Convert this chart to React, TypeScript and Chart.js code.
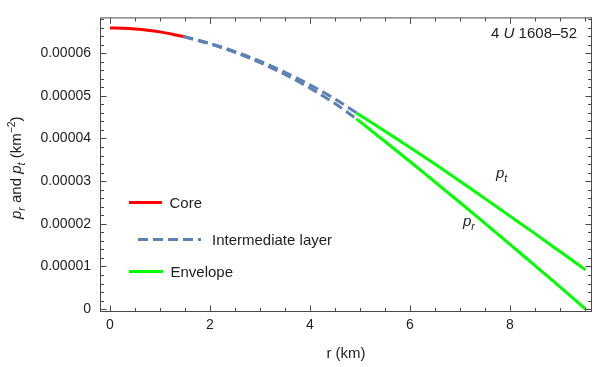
import React, { useEffect, useRef } from "react";
import { Chart, registerables } from "chart.js";

Chart.register(...registerables);

// values in units of 1e-5 km^-2
const UNIT = 1e-5;

const coreR = [0, 0.25, 0.5, 0.75, 1.0, 1.25, 1.47];
const coreP = [6.59, 6.584, 6.567, 6.54, 6.5, 6.445, 6.39];

const midR = [1.47, 2, 2.5, 3, 3.5, 4, 4.5, 4.93];
const midPt = [6.39, 6.227, 6.037, 5.812, 5.551, 5.256, 4.925, 4.6];
const midPr = [6.39, 6.218, 6.019, 5.78, 5.501, 5.181, 4.819, 4.46];

const envR = [4.93, 5.5, 6, 6.5, 7, 7.5, 8, 8.5, 9, 9.51];
const envPt = [4.6, 4.17, 3.79, 3.4, 3.0, 2.59, 2.18, 1.77, 1.35, 0.92];
const envPr = [4.46, 3.93, 3.46, 2.98, 2.5, 2.01, 1.52, 1.02, 0.52, 0.0];

const xTicks = [0, 2, 4, 6, 8];
const yTicks = [0, 1, 2, 3, 4, 5, 6];
const xMinorStep = 0.5;
const yMinorStep = 0.2;

const legendLabels = ["Core", "Intermediate layer", "Envelope"];
const starName = "4U 1608-52";

const RED = "#ff0000";
const BLUE = "#5e81b5";
const GREEN = "#00ff00";
const FRAME = "#4a4a4a";
const TEXT = "#1e1e1e";
const FAMILY = '"Liberation Sans", Arial, sans-serif';

type Seg = { t: string; it?: boolean; sub?: boolean; sup?: boolean };

function segFont(s: Seg) {
  return `${s.it ? "italic " : ""}${s.sub || s.sup ? 10.5 : 15}px ${FAMILY}`;
}
function richWidth(ctx: CanvasRenderingContext2D, segs: Seg[]) {
  let w = 0;
  for (const s of segs) {
    ctx.font = segFont(s);
    w += ctx.measureText(s.t).width;
  }
  return w;
}
function drawRich(ctx: CanvasRenderingContext2D, segs: Seg[], x: number, y: number) {
  ctx.textAlign = "left";
  ctx.textBaseline = "alphabetic";
  let cx = x;
  for (const s of segs) {
    ctx.font = segFont(s);
    const dy = s.sub ? 3.5 : s.sup ? -6 : 0;
    ctx.fillText(s.t, cx, y + dy);
    cx += ctx.measureText(s.t).width;
  }
}

const toPts = (xs: number[], ys: number[]) => xs.map((x, i) => ({ x, y: ys[i] * UNIT }));

const framePlugin = {
  id: "mmaFrame",
  afterDraw(chart: any) {
    const { ctx, chartArea: a, scales } = chart;
    const xs = scales.x;
    const ys = scales.y;
    ctx.save();
    ctx.strokeStyle = FRAME;
    ctx.lineWidth = 1;
    const L = a.left + 0.5, R = a.right - 0.5, T = a.top + 0.5, B = a.bottom - 0.5;
    ctx.strokeRect(L, T, R - L, B - T);
    const MAJ = 6, MIN = 3.5;
    ctx.beginPath();
    const xMin = xs.min, xMax = xs.max;
    for (let i = Math.ceil(xMin / xMinorStep); i * xMinorStep <= xMax; i++) {
      const v = i * xMinorStep;
      const isMajor = xTicks.some((t) => Math.abs(t - v) < 1e-9);
      const len = isMajor ? MAJ : MIN;
      const px = Math.round(xs.getPixelForValue(v)) + 0.5;
      ctx.moveTo(px, B);
      ctx.lineTo(px, B - len);
      ctx.moveTo(px, T);
      ctx.lineTo(px, T + len);
    }
    const yMin = ys.min / UNIT, yMax = ys.max / UNIT;
    for (let i = Math.ceil(yMin / yMinorStep - 1e-9); i * yMinorStep <= yMax + 1e-9; i++) {
      const v = i * yMinorStep;
      const isMajor = yTicks.some((t) => Math.abs(t - v) < 1e-9);
      const len = isMajor ? MAJ : MIN;
      const py = Math.round(ys.getPixelForValue(v * UNIT)) + 0.5;
      ctx.moveTo(L, py);
      ctx.lineTo(L + len, py);
      ctx.moveTo(R, py);
      ctx.lineTo(R - len, py);
    }
    ctx.stroke();

    ctx.fillStyle = TEXT;
    const ySegs: Seg[] = [
      { t: "p", it: true },
      { t: "r", it: true, sub: true },
      { t: " and " },
      { t: "p", it: true },
      { t: "t", it: true, sub: true },
      { t: " (km" },
      { t: "\u22122", sup: true },
      { t: ")" },
    ];
    const cy = (a.top + a.bottom) / 2 + 3;
    ctx.save();
    ctx.rotate(-Math.PI / 2);
    const yw = richWidth(ctx, ySegs);
    drawRich(ctx, ySegs, -cy - yw / 2, 21);
    ctx.restore();

    const dash = starName.indexOf("-");
    const nameSegs: Seg[] = [
      { t: starName.slice(0, 1) + " " },
      { t: starName.slice(1, 2), it: true },
      { t: " " + starName.slice(3, dash) + "\u2013" },
      { t: starName.slice(dash + 1) },
    ];
    const nw = richWidth(ctx, nameSegs);
    drawRich(ctx, nameSegs, 577 - nw, 38);

    drawRich(ctx, [{ t: "p", it: true }, { t: "t", it: true, sub: true }], 496, 178);
    drawRich(ctx, [{ t: "p", it: true }, { t: "r", it: true, sub: true }], 463, 226);

    const ds = chart.data.datasets;
    const items = [
      { d: ds[0], x0: 129, x1: 162, y: 202.5, tx: 169.5, label: legendLabels[0] },
      { d: ds[1], x0: 138, x1: 201, y: 239.5, tx: 212, label: legendLabels[1] },
      { d: ds[3], x0: 129, x1: 163, y: 271.5, tx: 170.5, label: legendLabels[2] },
    ];
    for (const it of items) {
      ctx.save();
      ctx.strokeStyle = it.d.borderColor;
      ctx.lineWidth = it.d.borderWidth;
      ctx.setLineDash(it.d.borderDash || []);
      ctx.beginPath();
      ctx.moveTo(it.x0, it.y);
      ctx.lineTo(it.x1, it.y);
      ctx.stroke();
      ctx.restore();
      drawRich(ctx, [{ t: it.label }], it.tx, it.y + 5.5);
    }
    ctx.restore();
  },
};

export default function App() {
  const ref = useRef<HTMLCanvasElement>(null);
  useEffect(() => {
    const canvas = ref.current!;
    const line = (data: any, color: string, dash?: number[]) => ({
      data,
      borderColor: color,
      backgroundColor: color,
      borderWidth: 3,
      borderDash: dash,
      showLine: true,
      pointRadius: 0,
      fill: false,
      cubicInterpolationMode: "monotone" as const,
    });
    const chart = new Chart(canvas, {
      type: "scatter",
      data: {
        datasets: [
          line(toPts(coreR, coreP), RED),
          line(toPts(midR, midPt), BLUE, [10, 5]),
          line(toPts(midR, midPr), BLUE, [10, 5]),
          line(toPts(envR, envPt), GREEN),
          line(toPts(envR, envPr), GREEN),
        ],
      },
      options: {
        animation: false,
        responsive: false,
        maintainAspectRatio: false,
        layout: { padding: { left: 0, right: 1, top: 5, bottom: 0 } },
        plugins: { legend: { display: false }, tooltip: { enabled: false } },
        scales: {
          x: {
            type: "linear",
            min: -0.2,
            max: 9.64,
            grid: { display: false, drawTicks: false },
            border: { display: false },
            afterFit: (s: any) => {
              s.height = 55;
            },
            afterBuildTicks: (s: any) => {
              s.ticks = xTicks.map((v) => ({ value: v }));
            },
            ticks: {
              padding: 5,
              autoSkip: false,
              maxRotation: 0,
              color: TEXT,
              font: { family: FAMILY, size: 14 },
              callback: (v: any) => String(v),
            },
            title: {
              display: true,
              text: "r (km)",
              color: TEXT,
              font: { family: FAMILY, size: 15 },
              padding: { top: 0, bottom: 4 },
            },
          },
          y: {
            type: "linear",
            min: -0.0675 * UNIT,
            max: 6.839 * UNIT,
            grid: { display: false, drawTicks: false },
            border: { display: false },
            afterFit: (s: any) => {
              s.width = 100;
            },
            afterBuildTicks: (s: any) => {
              s.ticks = yTicks.map((v) => ({ value: v * UNIT }));
            },
            ticks: {
              padding: 9,
              autoSkip: false,
              color: TEXT,
              font: { family: FAMILY, size: 14 },
              callback: (v: any) => (Math.abs(Number(v)) < 1e-12 ? "0" : Number(v).toFixed(5)),
            },
          },
        },
      },
      plugins: [framePlugin],
    } as any);
    return () => chart.destroy();
  }, []);
  return (
    <div style={{ position: "fixed", left: 0, top: 0, width: 593, height: 367, background: "#fff" }}>
      <canvas ref={ref} width={593} height={367} style={{ display: "block" }} />
    </div>
  );
}
